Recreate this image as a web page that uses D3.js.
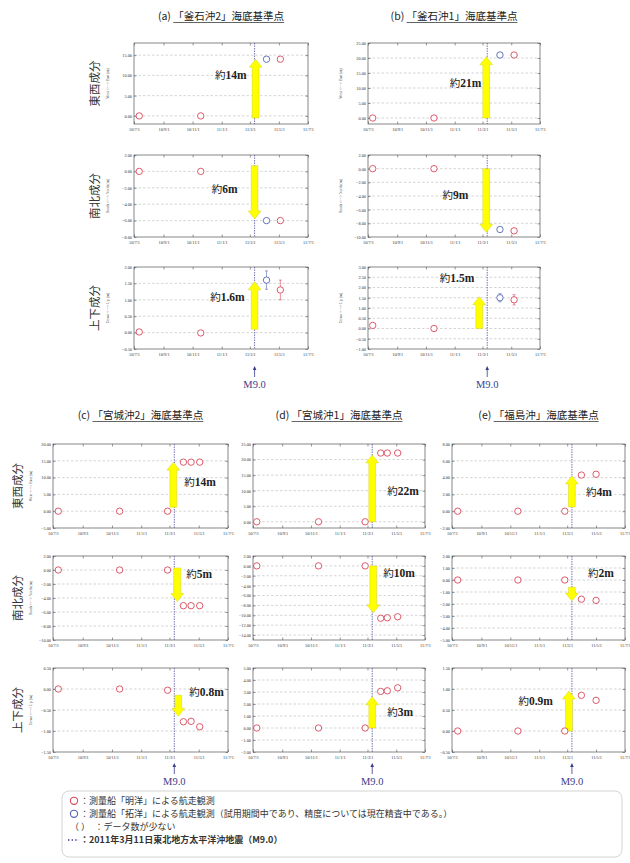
<!DOCTYPE html>
<html>
<head>
<meta charset="utf-8">
<script src="https://cdn.jsdelivr.net/npm/d3@7"></script>
<style>
  body { margin: 0; background: #fff; }
  svg { display: block; }
</style>
</head>
<body>
<svg id="chart" width="630" height="863"></svg>
<script>
// ---- values ----
const xTickDates = ["2010-07-01", "2010-09-01", "2010-11-01", "2011-01-01", "2011-03-01", "2011-05-01", "2011-07-01"]
const quakeDate = "2011-03-11"
const components = ["東西成分", "南北成分", "上下成分"]
const componentsEn = ["West <---> East (m)", "South <---> North (m)", "Down <---> Up (m)"]

// (a) 釜石沖2
const titleA = ["(a) ", "「釜石沖2」海底基準点"]
const datesA = ["2010-07-12", "2010-11-18", "2011-04-05", "2011-05-04"]
const vesselA = ["明洋", "明洋", "拓洋", "明洋"]
const ewA = [0, 0, 14.0, 14.0]
const nsA = [0, 0, -6.0, -6.0]
const udA = [0.02, -0.01, 1.6, 1.3]
const udErrA = [0, 0, 0.28, 0.3]
const yDomainA = [[-2, 18], [-8, 2], [-0.5, 2]]
const yTicksA = [[0, 5, 10, 15], [2, 0, -2, -4, -6, -8], [2, 1.5, 1, 0.5, 0, -0.5]]
const shiftA = [[-0.5, 14], [0.7, -5.8], [0.1, 1.55]]
const shiftLabelA = ["14m", "6m", "1.6m"]

// (b) 釜石沖1
const titleB = ["(b) ", "「釜石沖1」海底基準点"]
const datesB = ["2010-07-11", "2010-11-18", "2011-04-07", "2011-05-07"]
const vesselB = ["明洋", "明洋", "拓洋", "明洋"]
const ewB = [0, 0, 21, 21]
const nsB = [0, 0, -8.9, -9.1]
const udB = [0.15, 0, 1.5, 1.4]
const udErrB = [0, 0, 0.2, 0.25]
const yDomainB = [[-2, 25], [-10, 2], [-1, 3]]
const yTicksB = [[25, 20, 15, 10, 5, 0], [2, 0, -2, -4, -6, -8, -10], [3, 2.5, 2, 1.5, 1, 0.5, 0, -0.5, -1]]
const shiftB = [[0, 20.4], [0, -9.3], [0, 1.55]]
const shiftLabelB = ["21m", "9m", "1.5m"]

// (c) 宮城沖2
const titleC = ["(c) ", "「宮城沖2」海底基準点"]
const datesC = ["2010-07-12", "2010-11-17", "2011-02-25", "2011-03-30", "2011-04-15", "2011-05-03"]
const vesselC = ["明洋", "明洋", "明洋", "明洋", "明洋", "明洋"]
const ewC = [0, 0, 0, 14.6, 14.6, 14.6]
const nsC = [0, 0, 0, -5.1, -5.1, -5.1]
const udC = [0, 0, -0.03, -0.78, -0.77, -0.9]
const yDomainC = [[-5, 20], [-10, 2], [-1.5, 0.5]]
const yTicksC = [[20, 15, 10, 5, 0, -5], [2, 0, -2, -4, -6, -8, -10], [0.5, 0, -0.5, -1, -1.5]]
const shiftC = [[1.2, 14.6], [0.3, -4.5], [-0.15, -0.65]]
const shiftLabelC = ["14m", "5m", "0.8m"]

// (d) 宮城沖1
const titleD = ["(d) ", "「宮城沖1」海底基準点"]
const datesD = ["2010-07-09", "2010-11-17", "2011-02-24", "2011-03-29", "2011-04-12", "2011-05-04"]
const vesselD = ["明洋", "明洋", "明洋", "明洋", "明洋", "明洋"]
const ewD = [0, 0, 0, 22.1, 22.1, 22.1]
const nsD = [0, 0, 0, -10.6, -10.5, -10.3]
const udD = [0, 0, 0, 3.05, 3.1, 3.35]
const yDomainD = [[-2, 25], [-15, 2], [-2, 5]]
const yTicksD = [[25, 20, 15, 10, 5, 0], [2, 0, -2, -4, -6, -8, -10, -12, -14], [5, 4, 3, 2, 1, 0, -1, -2]]
const shiftD = [[0, 21.5], [0, -9.5], [0, 2.6]]
const shiftLabelD = ["22m", "10m", "3m"]

// (e) 福島沖
const titleE = ["(e) ", "「福島沖」海底基準点"]
const datesE = ["2010-07-13", "2010-11-17", "2011-02-24", "2011-03-31", "2011-05-01"]
const vesselE = ["明洋", "明洋", "明洋", "明洋", "明洋"]
const ewE = [0, 0, 0, 4.3, 4.4]
const nsE = [0, 0, 0, -1.6, -1.7]
const udE = [0, 0, 0, 0.85, 0.73]
const yDomainE = [[-2, 8], [-5, 2], [-0.5, 1.5]]
const yTicksE = [[8, 6, 4, 2, 0, -2], [2, 1, 0, -1, -2, -3, -4, -5], [1.5, 1, 0.5, 0, -0.5]]
const shiftE = [[0.5, 4.2], [-0.6, -1.75], [0, 0.95]]
const shiftLabelE = ["4m", "2m", "0.9m"]

const legendLines = [
  "：測量船「明洋」による航走観測",
  "：測量船「拓洋」による航走観測（試用期間中であり、精度については現在精査中である。）",
  "（ ）　：データ数が少ない",
  "：2011年3月11日東北地方太平洋沖地震（M9.0）",
]

// ---- layout ----
const topRows = [[43, 124], [155, 237], [267, 349]]
const bottomRows = [[444, 528], [556, 640], [668, 752]]

const stations = [
  { title: titleA, dates: datesA, vessel: vesselA, series: [ewA, nsA, udA], err: udErrA,
    yDomain: yDomainA, yTicks: yTicksA, shift: shiftA, shiftLabel: shiftLabelA,
    x: [134, 308], rows: topRows, titleY: 20, jaX: 99, enX: 109,
    labelDx: [-9, -17, -10], labelAt: [10, -2.1, 1.1], arrowDx: [1, 0, 0], m9Y: 366 },
  { title: titleB, dates: datesB, vessel: vesselB, series: [ewB, nsB, udB], err: udErrB,
    yDomain: yDomainB, yTicks: yTicksB, shift: shiftB, shiftLabel: shiftLabelB,
    x: [368, 540], rows: topRows, titleY: 20, jaX: null, enX: 342,
    labelDx: [-5, -18, -5], labelAt: [11.7, -3.8, 2.45], arrowDx: [-1, -1, -8], m9Y: 366 },
  { title: titleC, dates: datesC, vessel: vesselC, series: [ewC, nsC, udC], err: null,
    yDomain: yDomainC, yTicks: yTicksC, shift: shiftC, shiftLabel: shiftLabelC,
    x: [53, 228], rows: bottomRows, titleY: 419, jaX: 22, enX: 32,
    labelDx: [11, 9, 11], labelAt: [8.7, -0.5, -0.07], arrowDx: [-1, 3, 4], m9Y: 763 },
  { title: titleD, dates: datesD, vessel: vesselD, series: [ewD, nsD, udD], err: null,
    yDomain: yDomainD, yTicks: yTicksD, shift: shiftD, shiftLabel: shiftLabelD,
    x: [253, 425], rows: bottomRows, titleY: 419, jaX: null, enX: null,
    labelDx: [15, 10, 15], labelAt: [10, -1.4, 1.3], arrowDx: [0, 1, 0], m9Y: 763 },
  { title: titleE, dates: datesE, vessel: vesselE, series: [ewE, nsE, udE], err: null,
    yDomain: yDomainE, yTicks: yTicksE, shift: shiftE, shiftLabel: shiftLabelE,
    x: [452, 625], rows: bottomRows, titleY: 419, jaX: null, enX: null,
    labelDx: [14, 16, -16], labelAt: [2.3, 0.6, 0.71], arrowDx: [0, 0, -3], m9Y: 763 },
]

const RED = "#d8485a"
const BLUE = "#5565b5"
const NAVY = "#3a3c8e"
const SERIF = "'Liberation Serif', 'Noto Sans CJK JP', serif"
const JA = "'Noto Sans CJK JP', sans-serif"

const parse = d3.timeParse("%Y-%m-%d")
const tickFmt = d3.format(".2f")
const dateFmt = d3.timeFormat("%y/%-m/%-d")
const svg = d3.select("#chart")

function arrowPath(x, ya, yb) {
  const dir = Math.sign(yb - ya)
  const len = Math.abs(yb - ya)
  const hl = Math.min(8, len * 0.6)
  const sw = 3.4, hw = 6.4
  const yn = yb - dir * hl
  return `M${x - sw},${ya}L${x + sw},${ya}L${x + sw},${yn}L${x + hw},${yn}L${x},${yb}L${x - hw},${yn}L${x - sw},${yn}Z`
}

function styleAxis(g) {
  g.select(".domain").remove()
  g.selectAll("line").attr("stroke", "#555").attr("stroke-width", 0.6)
  g.selectAll("text").attr("font-size", 4.3).attr("font-family", SERIF).attr("fill", "#333")
}

stations.forEach((st) => {
  const [x0, x1] = st.x
  const x = d3.scaleTime().domain([parse(xTickDates[0]), parse(xTickDates[xTickDates.length - 1])]).range([x0, x1])
  const xq = x(parse(quakeDate))

  // title with underlined station name
  const t = svg.append("text")
    .attr("x", (x0 + x1) / 2).attr("y", st.titleY)
    .attr("text-anchor", "middle")
    .attr("font-family", JA).attr("font-size", 10.5).attr("fill", "#222")
  t.append("tspan").text(st.title[0])
  t.append("tspan").text(st.title[1])
  const node = t.node()
  const n0 = st.title[0].length
  const ux0 = node.getStartPositionOfChar(n0).x
  const ux1 = node.getEndPositionOfChar(n0 + st.title[1].length - 1).x
  svg.append("line").attr("x1", ux0).attr("x2", ux1)
    .attr("y1", st.titleY + 2.5).attr("y2", st.titleY + 2.5)
    .attr("stroke", "#222").attr("stroke-width", 0.7)

  st.series.forEach((vals, r) => {
    const [y0, y1] = st.rows[r]
    const y = d3.scaleLinear().domain(st.yDomain[r]).range([y1, y0])
    const g = svg.append("g")

    // dashed grid at each labelled value
    g.selectAll("line.grid")
      .data(st.yTicks[r].filter((v) => y(v) > y0 + 1 && y(v) < y1 - 1))
      .enter().append("line")
      .attr("x1", x0).attr("x2", x1)
      .attr("y1", (v) => y(v)).attr("y2", (v) => y(v))
      .attr("stroke", "#b8b8b8").attr("stroke-width", 0.6).attr("stroke-dasharray", "2.5,2")

    // axes with inward ticks on all sides
    g.append("g").attr("transform", `translate(${x0},0)`)
      .call(d3.axisLeft(y).tickValues(st.yTicks[r]).tickFormat(tickFmt).tickSizeInner(-2.5).tickSizeOuter(0).tickPadding(2))
      .call(styleAxis)
    g.append("g").attr("transform", `translate(${x1},0)`)
      .call(d3.axisRight(y).tickValues(st.yTicks[r]).tickFormat("").tickSizeInner(-2.5).tickSizeOuter(0))
      .call(styleAxis)
    g.append("g").attr("transform", `translate(0,${y1})`)
      .call(d3.axisBottom(x).tickValues(xTickDates.map(parse)).tickFormat(dateFmt).tickSizeInner(-2.5).tickSizeOuter(0).tickPadding(4))
      .call(styleAxis)
    g.append("g").attr("transform", `translate(0,${y0})`)
      .call(d3.axisTop(x).tickValues(xTickDates.map(parse)).tickFormat("").tickSizeInner(-2.5).tickSizeOuter(0))
      .call(styleAxis)

    g.append("rect").attr("x", x0).attr("y", y0).attr("width", x1 - x0).attr("height", y1 - y0)
      .attr("fill", "none").attr("stroke", "#555").attr("stroke-width", 0.7)

    // earthquake line
    g.append("line").attr("x1", xq).attr("x2", xq).attr("y1", y0).attr("y2", y1)
      .attr("stroke", NAVY).attr("stroke-width", 0.7).attr("stroke-dasharray", "1.5,1")

    // y labels
    if (st.jaX !== null) {
      g.append("text").attr("transform", `translate(${st.jaX},${(y0 + y1) / 2}) rotate(-90)`)
        .attr("text-anchor", "middle").attr("font-family", JA).attr("font-size", 11.5).attr("fill", "#333")
        .text(components[r])
    }
    if (st.enX !== null) {
      g.append("text").attr("transform", `translate(${st.enX},${(y0 + y1) / 2}) rotate(-90)`)
        .attr("text-anchor", "middle").attr("font-family", SERIF).attr("font-size", 3.8).attr("fill", "#444")
        .text(componentsEn[r])
    }

    // displacement arrow
    const [from, to] = st.shift[r]
    const ax = xq + st.arrowDx[r]
    g.append("path").attr("d", arrowPath(ax, y(from), y(to)))
      .attr("fill", "#ffff00").attr("stroke", "#c9c900").attr("stroke-width", 0.4)

    const lbl = g.append("text")
      .attr("x", ax + st.labelDx[r]).attr("y", y(st.labelAt[r]) + 4)
      .attr("text-anchor", st.labelDx[r] < 0 ? "end" : "start")
      .attr("font-family", SERIF).attr("font-size", 11.5).attr("fill", "#222")
    lbl.append("tspan").attr("font-family", JA).attr("font-size", 10.5).text("約")
    lbl.append("tspan").attr("font-weight", "bold").text(st.shiftLabel[r])

    // error bars (vertical only)
    if (r === 2 && st.err) {
      const eb = g.selectAll("g.err").data(st.dates.map((d, i) => ({ d, v: vals[i], e: st.err[i], s: st.vessel[i] })).filter((p) => p.e > 0))
        .enter().append("g")
      eb.append("line")
        .attr("x1", (p) => x(parse(p.d))).attr("x2", (p) => x(parse(p.d)))
        .attr("y1", (p) => y(p.v - p.e)).attr("y2", (p) => y(p.v + p.e))
        .attr("stroke", (p) => (p.s === "拓洋" ? BLUE : RED)).attr("stroke-width", 0.6)
      ;[-1, 1].forEach((sgn) => {
        eb.append("line")
          .attr("x1", (p) => x(parse(p.d)) - 1.5).attr("x2", (p) => x(parse(p.d)) + 1.5)
          .attr("y1", (p) => y(p.v + sgn * p.e)).attr("y2", (p) => y(p.v + sgn * p.e))
          .attr("stroke", (p) => (p.s === "拓洋" ? BLUE : RED)).attr("stroke-width", 0.6)
      })
    }

    // observation points
    g.selectAll("circle.pt")
      .data(st.dates.map((d, i) => ({ d, v: vals[i], s: st.vessel[i] })))
      .enter().append("circle")
      .attr("cx", (p) => x(parse(p.d))).attr("cy", (p) => y(p.v)).attr("r", 3.2)
      .attr("fill", "#fff").attr("stroke", (p) => (p.s === "拓洋" ? BLUE : RED)).attr("stroke-width", 0.9)
  })

  // M9.0 marker under the column
  const m = svg.append("g").attr("fill", NAVY)
  m.append("line").attr("x1", xq).attr("x2", xq).attr("y1", st.m9Y + 2).attr("y2", st.m9Y + 11)
    .attr("stroke", NAVY).attr("stroke-width", 0.8)
  m.append("path").attr("d", `M${xq - 1.8},${st.m9Y + 4}L${xq},${st.m9Y}L${xq + 1.8},${st.m9Y + 4}Z`)
  m.append("text").attr("x", xq).attr("y", st.m9Y + 22).attr("text-anchor", "middle")
    .attr("font-family", SERIF).attr("font-size", 10.5).text("M9.0")
})

// ---- legend ----
const lg = svg.append("g")
lg.append("rect").attr("x", 62).attr("y", 791).attr("width", 560).attr("height", 66).attr("rx", 7)
  .attr("fill", "#fff").attr("stroke", "#c8c8c8").attr("stroke-width", 0.8)
const lineY = (i) => 804 + i * 13
legendLines.forEach((s, i) => {
  lg.append("text").attr("x", i === 2 ? 70 : 80).attr("y", lineY(i))
    .attr("font-family", JA).attr("font-size", 9).attr("fill", "#333")
    .attr("font-weight", i === 3 ? "bold" : "normal").text(s)
})
lg.append("circle").attr("cx", 74).attr("cy", lineY(0) - 3.2).attr("r", 3.6).attr("fill", "none").attr("stroke", RED).attr("stroke-width", 1.1)
lg.append("circle").attr("cx", 74).attr("cy", lineY(1) - 3.2).attr("r", 3.6).attr("fill", "none").attr("stroke", BLUE).attr("stroke-width", 1.1)
lg.append("line").attr("x1", 68).attr("x2", 79).attr("y1", lineY(3) - 3).attr("y2", lineY(3) - 3)
  .attr("stroke", NAVY).attr("stroke-width", 1.4).attr("stroke-dasharray", "1.4,2.2")
</script>
</body>
</html>
